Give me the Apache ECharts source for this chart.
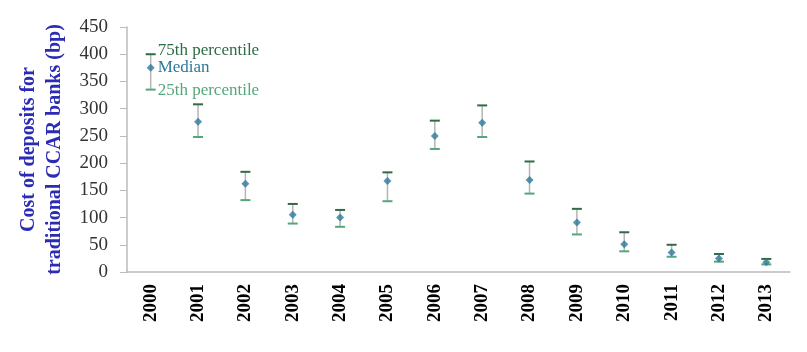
<!DOCTYPE html>
<html>
<head>
<meta charset="utf-8">
<script src="https://cdn.jsdelivr.net/npm/echarts@6/dist/echarts.min.js"></script>
<style>
  html, body { margin: 0; padding: 0; background: #fff; }
  #chart { width: 807px; height: 352px; }
</style>
</head>
<body>
<div id="chart"></div>
<script>
// values (bp)
var years = ['2000', '2001', '2002', '2003', '2004', '2005', '2006', '2007', '2008', '2009', '2010', '2011', '2012', '2013'];
var p75 = [400, 308, 184, 125, 114, 183, 278, 306, 203, 116, 73, 50, 33, 24];
var median = [375, 276, 162, 105, 100, 167, 250, 274, 169, 91, 51, 36, 25, 18];
var p25 = [335, 248, 132, 89, 83, 130, 226, 248, 144, 69, 38, 28, 19, 14];
var yTicks = [0, 50, 100, 150, 200, 250, 300, 350, 400, 450];

var serif = '"Liberation Serif", "DejaVu Serif", serif';
var cTop = '#2f6b45', cLow = '#56a67c', cMed = '#2b7a98', cWhisker = '#b5b5b5';

var chart = echarts.init(document.getElementById('chart'));

chart.setOption({
    animation: false,
    grid: { left: 127, right: 17, top: 27, bottom: 80, outerBoundsMode: 'none' },
    xAxis: {
        type: 'category',
        data: years,
        axisLine: { lineStyle: { color: '#bbbbbb', width: 1.5 } },
        axisTick: { show: false },
        axisLabel: {
            rotate: 90,
            color: '#000',
            fontFamily: serif,
            fontWeight: 'bold',
            fontSize: 19,
            margin: 12
        }
    },
    yAxis: {
        type: 'value',
        min: 0,
        max: 450,
        interval: 50,
        name: 'Cost of deposits for\ntraditional CCAR banks (bp)',
        nameLocation: 'middle',
        nameGap: 59,
        nameTextStyle: {
            color: '#2b2bb5',
            fontFamily: serif,
            fontWeight: 'bold',
            fontSize: 20,
            lineHeight: 26
        },
        axisLine: { show: true, lineStyle: { color: '#bbbbbb', width: 1.5 } },
        axisTick: { show: true, length: 7, lineStyle: { color: '#bbbbbb' } },
        splitLine: { show: false },
        axisLabel: {
            color: '#333',
            fontFamily: serif,
            fontSize: 19,
            margin: 19,
            formatter: function (v) { return yTicks.indexOf(v) >= 0 ? String(v) : ''; }
        }
    },
    series: [
        {
            type: 'custom',
            data: years.map(function (y, i) { return [i, p25[i], p75[i]]; }),
            encode: { x: 0, y: [1, 2] },
            renderItem: function (params, api) {
                var i = api.value(0);
                var hi = api.coord([i, api.value(2)]);
                var lo = api.coord([i, api.value(1)]);
                var half = 5;
                var kids = [
                    { type: 'line', shape: { x1: hi[0], y1: hi[1], x2: lo[0], y2: lo[1] },
                      style: { stroke: cWhisker, lineWidth: 1.5 } },
                    { type: 'line', shape: { x1: hi[0] - half, y1: hi[1], x2: hi[0] + half, y2: hi[1] },
                      style: { stroke: cTop, lineWidth: 2 } },
                    { type: 'line', shape: { x1: lo[0] - half, y1: lo[1], x2: lo[0] + half, y2: lo[1] },
                      style: { stroke: cLow, lineWidth: 2 } }
                ];
                if (params.dataIndex === 0) {
                    var mid = api.coord([i, median[0]]);
                    var font = '17px ' + serif;
                    kids.push(
                        { type: 'text', style: { text: '75th percentile', x: hi[0] + 7, y: hi[1] - 4,
                          font: font, fill: cTop, verticalAlign: 'middle' } },
                        { type: 'text', style: { text: 'Median', x: mid[0] + 7, y: mid[1],
                          font: font, fill: cMed, verticalAlign: 'middle' } },
                        { type: 'text', style: { text: '25th percentile', x: lo[0] + 7, y: lo[1] + 1,
                          font: font, fill: cLow, verticalAlign: 'middle' } }
                    );
                }
                return { type: 'group', children: kids };
            },
            z: 2
        },
        {
            type: 'scatter',
            data: median,
            symbol: 'diamond',
            symbolSize: 8,
            itemStyle: { color: cMed },
            z: 3
        }
    ]
});
</script>
</body>
</html>
